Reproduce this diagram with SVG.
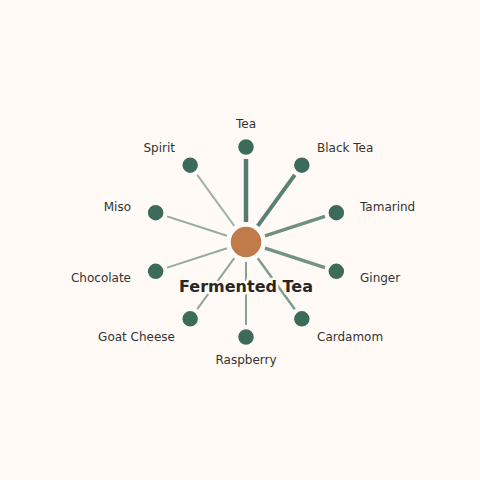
<svg xmlns="http://www.w3.org/2000/svg" width="480" height="480" viewBox="0 0 480 480">
<style>
.bg{fill:#FFFAF6}
.edge{stroke:#3D6B5A;stroke-linecap:butt;fill:none}
.leaf{fill:#3D6B5A;stroke:#FFFAF6;stroke-width:1.5}
.hub{fill:#C17A4A;stroke:#FFFFFF;stroke-width:2.5}
.lbl{font-family:"DejaVu Sans",sans-serif;font-size:12px;fill:#333333}
.title{font-family:"DejaVu Sans",sans-serif;font-size:16px;font-weight:bold;fill:#2A2622;stroke:#FFFAF6;stroke-width:5;paint-order:stroke;stroke-linejoin:round}
</style>
<rect class="bg" x="0" y="0" width="480" height="480"/>
<g id="connectors">
<line class="edge" x1="246" y1="222" x2="246" y2="159" stroke-width="4.5" stroke-opacity="0.88"/>
<line class="edge" x1="257.76" y1="225.82" x2="294.79" y2="174.85" stroke-width="4" stroke-opacity="0.85"/>
<line class="edge" x1="265.02" y1="235.82" x2="324.94" y2="216.35" stroke-width="3.5" stroke-opacity="0.75"/>
<line class="edge" x1="265.02" y1="248.18" x2="324.94" y2="267.65" stroke-width="3.5" stroke-opacity="0.72"/>
<line class="edge" x1="257.76" y1="258.18" x2="294.79" y2="309.15" stroke-width="2.5" stroke-opacity="0.65"/>
<line class="edge" x1="246" y1="262" x2="246" y2="325" stroke-width="2" stroke-opacity="0.62"/>
<line class="edge" x1="234.24" y1="258.18" x2="197.21" y2="309.15" stroke-width="2" stroke-opacity="0.58"/>
<line class="edge" x1="226.98" y1="248.18" x2="167.06" y2="267.65" stroke-width="2" stroke-opacity="0.55"/>
<line class="edge" x1="226.98" y1="235.82" x2="167.06" y2="216.35" stroke-width="2" stroke-opacity="0.55"/>
<line class="edge" x1="234.24" y1="225.82" x2="197.21" y2="174.85" stroke-width="2" stroke-opacity="0.5"/>
</g>
<g id="node-tea"><circle class="leaf" cx="246" cy="147" r="8.5"/><text class="lbl" x="246" y="128" text-anchor="middle">Tea</text></g>
<g id="node-black-tea"><circle class="leaf" cx="301.84" cy="165.14" r="8.5"/><text class="lbl" x="317" y="152">Black Tea</text></g>
<g id="node-tamarind"><circle class="leaf" cx="336.35" cy="212.64" r="8.5"/><text class="lbl" x="360" y="211">Tamarind</text></g>
<g id="node-ginger"><circle class="leaf" cx="336.35" cy="271.36" r="8.5"/><text class="lbl" x="360" y="282">Ginger</text></g>
<g id="node-cardamom"><circle class="leaf" cx="301.84" cy="318.86" r="8.5"/><text class="lbl" x="317" y="341">Cardamom</text></g>
<g id="node-raspberry"><circle class="leaf" cx="246" cy="337" r="8.5"/><text class="lbl" x="246" y="364" text-anchor="middle">Raspberry</text></g>
<g id="node-goat-cheese"><circle class="leaf" cx="190.16" cy="318.86" r="8.5"/><text class="lbl" x="175" y="341" text-anchor="end">Goat Cheese</text></g>
<g id="node-chocolate"><circle class="leaf" cx="155.65" cy="271.36" r="8.5"/><text class="lbl" x="131" y="282" text-anchor="end">Chocolate</text></g>
<g id="node-miso"><circle class="leaf" cx="155.65" cy="212.64" r="8.5"/><text class="lbl" x="131" y="211" text-anchor="end">Miso</text></g>
<g id="node-spirit"><circle class="leaf" cx="190.16" cy="165.14" r="8.5"/><text class="lbl" x="175" y="152" text-anchor="end">Spirit</text></g>
<g id="node-fermented-tea"><circle class="hub" cx="246" cy="242" r="16.5"/><text class="title" x="246" y="292" text-anchor="middle">Fermented Tea</text></g>
</svg>
